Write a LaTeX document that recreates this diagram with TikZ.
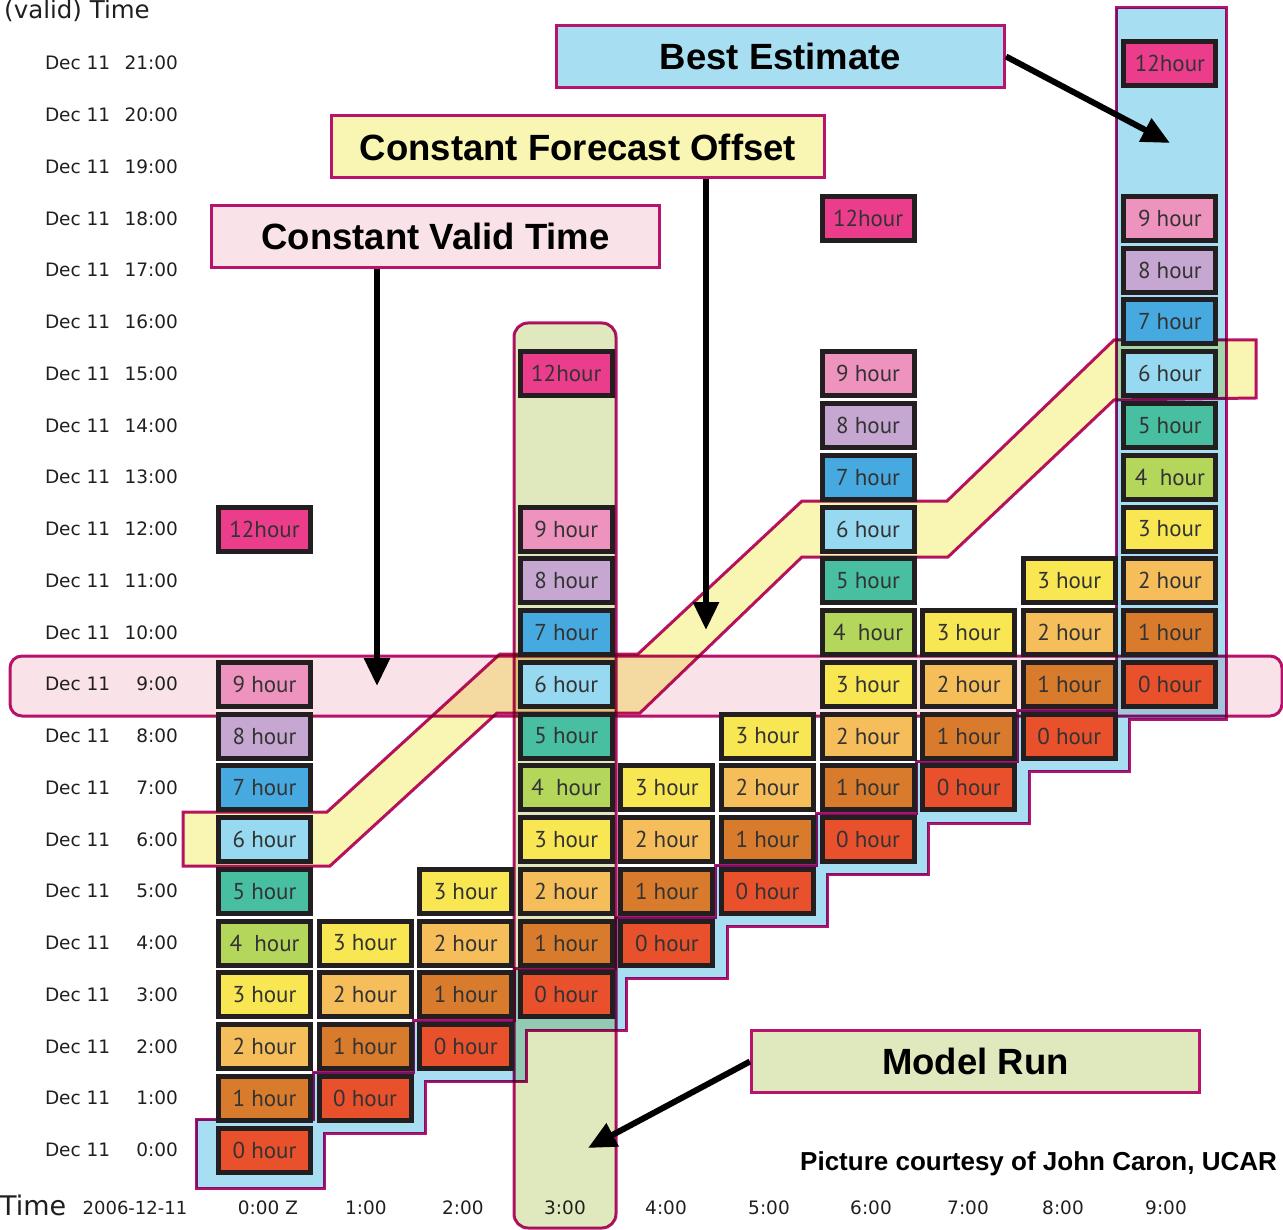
\documentclass[tikz,border=0pt]{standalone}
\usepackage{fontspec}
\setmainfont{Liberation Sans}
\newfontfamily\boxfont{PT Sans}
\newfontfamily\axisfont{DejaVu Sans}
\usetikzlibrary{arrows.meta}

% forecast-hour cell colours
\definecolor{hr0}{HTML}{E8512C}
\definecolor{hr1}{HTML}{D97B2C}
\definecolor{hr2}{HTML}{F6BE5B}
\definecolor{hr3}{HTML}{F8E652}
\definecolor{hr4}{HTML}{B3D65B}
\definecolor{hr5}{HTML}{48BFA1}
\definecolor{hr6}{HTML}{97D9F1}
\definecolor{hr7}{HTML}{46AAE0}
\definecolor{hr8}{HTML}{C6A7D1}
\definecolor{hr9}{HTML}{EE93BE}
\definecolor{hr12}{HTML}{EC3D8D}
\definecolor{cellborder}{HTML}{231F20}
\definecolor{celltext}{HTML}{333333}
% band / callout colours
\definecolor{bandline}{HTML}{B8136F}
\definecolor{bestfill}{HTML}{A8DEF2}
\definecolor{runfill}{HTML}{E0E9BE}
\definecolor{offsetfill}{HTML}{F9F5B2}
\definecolor{validfill}{HTML}{FAE3E8}

\tikzset{
  cell/.style={draw=cellborder, line width=5pt, minimum width=92pt,
    minimum height=44pt, inner sep=0pt, text=celltext,
    font=\boxfont\fontsize{23}{23}\selectfont},
  callout/.style={draw=bandline, line width=3pt, minimum width=448pt,
    minimum height=62pt, inner sep=0pt,
    font=\bfseries\fontsize{36.5}{36.5}\selectfont},
  band/.style={draw=bandline, line width=3pt, line join=miter},
  pointer/.style={line width=6pt, -{Triangle[length=28pt,width=25pt]}},
  axislabel/.style={inner sep=0pt, text=black!88,
    font=\axisfont\fontsize{18.5}{18.5}\selectfont},
}

\begin{document}
\begin{tikzpicture}[x=1pt,y=-1pt]
\useasboundingbox (0,0) rectangle (1283,1230);

% ---------- highlight bands (behind the cells) ----------
\begin{scope}[blend mode=multiply]
  % best estimate: latest run column plus the 0-hour staircase
  \draw[band, fill=bestfill]
    (1116,8) -- (1226,8) -- (1226,719) -- (1129,719) -- (1129,771)
    -- (1029,771) -- (1029,823) -- (928,823) -- (928,874.5)
    -- (827.5,874.5) -- (827.5,926) -- (727,926) -- (727,978)
    -- (626,978) -- (626,1030) -- (526,1030) -- (526,1081.5)
    -- (425,1081.5) -- (425,1133) -- (324.5,1133) -- (324.5,1188)
    -- (196,1188) -- (196,1119) -- (313,1119) -- (313,1072)
    -- (413.7,1072) -- (413.7,1020.5) -- (514.3,1020.5) -- (514.3,968.75)
    -- (615,968.75) -- (615,917) -- (715.5,917) -- (715.5,865)
    -- (816,865) -- (816,813.5) -- (916.7,813.5) -- (916.7,761.75)
    -- (1017.3,761.75) -- (1017.3,710) -- (1116,710) -- cycle;
  % one model run
  \draw[band, fill=runfill, rounded corners=14pt] (514,323) rectangle (616,1228);
  % constant forecast offset (6 hour)
  \draw[band, fill=offsetfill]
    (183,812) -- (327,812) -- (500,654) -- (638,654) -- (802,501)
    -- (947,501) -- (1114,340) -- (1256,340) -- (1256,398)
    -- (1114,400) -- (948,557) -- (802,557) -- (640,713)
    -- (497,713) -- (330,866) -- (183,866) -- cycle;
  % constant valid time (9:00)
  \draw[band, fill=validfill, rounded corners=12pt] (10,656) rectangle (1282,716);
\end{scope}

% ---------- forecast cells ----------
\foreach \c/\n in {0/9,1/3,2/3,3/9,4/3,5/3,6/9,7/3,8/3,9/9}{
  \foreach \k in {0,...,\n}{
    \pgfmathsetmacro\cx{264.5+100.6*\c}
    \pgfmathsetmacro\cy{1150-51.75*(\c+\k)}
    \node[cell, fill=hr\k] (cell-\c-\k) at (\cx,\cy)
      {\ifnum\k=4 4\ \ hour\else\k\ hour\fi};
  }
}
\foreach \c in {0,3,6,9}{
  \pgfmathsetmacro\cx{264.5+100.6*\c}
  \pgfmathsetmacro\cy{1150-51.75*(\c+12)}
  \node[cell, fill=hr12] (cell-\c-12) at (\cx,\cy) {12hour};
}

% ---------- axes ----------
\node[axislabel, anchor=base west, font=\axisfont\fontsize{24.5}{24.5}\selectfont]
  (validAxis) at (4,19) {(valid) Time};
\foreach \h in {0,...,21}{
  \pgfmathsetmacro\ry{1150-51.75*\h}
  \node[axislabel] (row-\h) at (111.5,\ry) {\makebox[133pt]{Dec 11\hfill\h:00}};
}
\node[axislabel, anchor=base west, font=\axisfont\fontsize{27}{27}\selectfont]
  (runAxis) at (0,1215) {Time};
\node[axislabel, font=\axisfont\fontsize{18}{18}\selectfont] (runDate) at (135,1208) {2006-12-11};
\foreach \c/\xp/\t in {0/268/0:00 Z,1/366/1:00,2/463/2:00,3/565/3:00,4/666/4:00,
                       5/769/5:00,6/871/6:00,7/968/7:00,8/1063/8:00,9/1166/9:00}{
  \node[axislabel] (col-\c) at (\xp,1208) {\t};
}

% ---------- callouts ----------
\node[callout, fill=bestfill] (bestBox) at (780.5,56.5) {Best Estimate};
\node[callout, fill=offsetfill, minimum width=493pt] (offsetBox) at (578,147)
  {Constant Forecast Offset};
\node[callout, fill=validfill] (validBox) at (435.5,236.5) {Constant Valid Time};
\node[callout, fill=runfill] (runBox) at (975.5,1061.5) {Model Run};

\coordinate (validTip) at (377,686);
\coordinate (offsetTip) at (706,630);
\coordinate (bestTip) at (1170,143);
\coordinate (runTip) at (588,1148);
\draw[pointer] (validBox.south -| validTip) -- (validTip);
\draw[pointer] (offsetBox.south -| offsetTip) -- (offsetTip);
\draw[pointer] (bestBox.east) -- (bestTip);
\draw[pointer] (runBox.west) -- (runTip);

\node[anchor=base west, inner sep=0pt, font=\bfseries\fontsize{26}{26}\selectfont]
  (credit) at (800,1170) {Picture courtesy of John Caron, UCAR};
\end{tikzpicture}
\end{document}
